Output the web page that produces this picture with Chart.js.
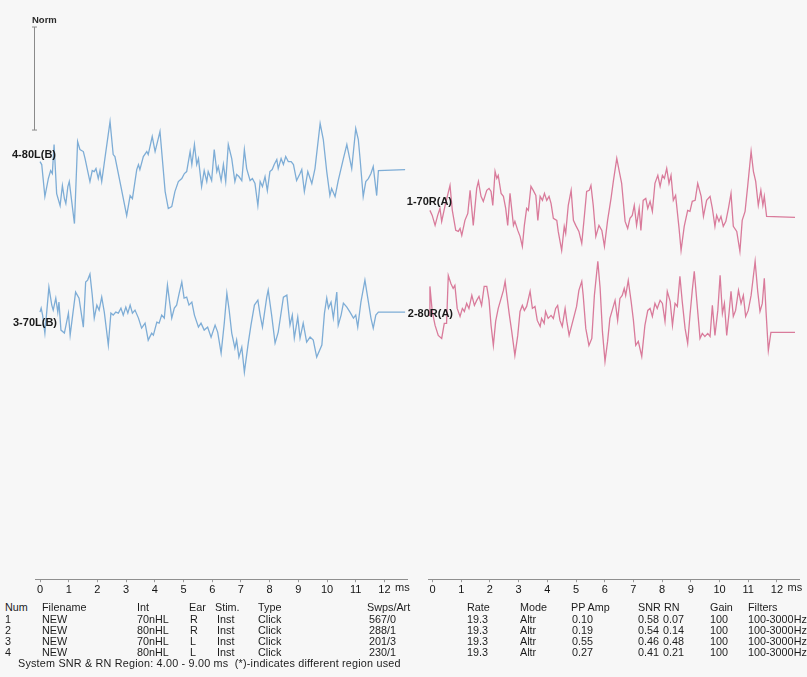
<!DOCTYPE html>
<html>
<head>
<meta charset="utf-8">
<script src="https://cdn.jsdelivr.net/npm/chart.js@4/dist/chart.umd.min.js"></script>
<style>
  html, body { margin: 0; background: #f7f7f7; }
  #page { position: relative; width: 807px; height: 677px; overflow: hidden;
          font-family: "Liberation Sans", Arial, sans-serif; color: #1c1c1c; }
  #page canvas { position: absolute; left: 0; top: 0; }
  .cell { position: absolute; font-size: 10.8px; line-height: 12px; white-space: pre; }
  .note { letter-spacing: 0.2px; }
</style>
</head>
<body>
<div id="page">
  <canvas id="leftChart" width="807" height="600"></canvas>
  <canvas id="rightChart" width="807" height="600"></canvas>
  <div id="table"></div>
</div>
<script>
// =============================
// ABR waveforms: latency (ms) and amplitude (µV),
// amplitude measured from each trace's flat tail
// =============================
const tL80 = [0.00,0.06,0.17,0.29,0.37,0.43,0.49,0.58,0.70,0.78,
  0.85,0.90,0.97,1.02,1.20,1.31,1.39,1.51,1.57,1.68,
  1.74,1.82,1.89,1.95,2.03,2.09,2.15,2.26,2.44,2.55,
  2.61,2.82,3.02,3.14,3.22,3.37,3.43,3.48,3.60,3.72,
  3.77,3.91,4.01,4.18,4.24,4.36,4.47,4.59,4.70,4.82,
  4.94,5.03,5.11,5.23,5.29,5.38,5.46,5.52,5.63,5.72,
  5.81,5.86,5.98,6.07,6.16,6.21,6.31,6.39,6.47,6.56,
  6.68,6.79,6.85,6.93,7.03,7.12,7.20,7.32,7.40,7.49,
  7.59,7.67,7.75,7.84,7.92,8.01,8.09,8.16,8.25,8.30,
  8.40,8.48,8.56,8.65,8.75,8.83,8.94,9.06,9.12,9.21,
  9.33,9.47,9.58,9.76,9.87,9.99,10.10,10.16,10.28,10.39,
  10.57,10.69,10.74,10.86,11.00,11.09,11.15,11.26,11.35,11.44,
  11.53,11.61,11.73,11.79,12.72];
const uvL80 = [0.08,0.05,-0.27,-0.09,-0.01,-0.04,0.25,-0.24,-0.36,-0.16,
  -0.29,-0.34,-0.17,-0.12,-0.54,0.28,0.20,0.18,0.11,-0.04,
  -0.12,-0.01,-0.02,0.01,-0.09,-0.01,-0.12,0.11,0.48,0.15,
  0.13,-0.17,-0.46,-0.26,-0.29,0.00,0.05,0.00,0.13,0.18,
  0.15,0.33,0.18,0.38,0.18,-0.22,-0.39,-0.37,-0.22,-0.12,
  -0.09,-0.04,-0.02,0.18,0.05,0.25,0.05,0.11,-0.17,-0.01,
  -0.12,-0.02,-0.11,0.20,-0.02,0.03,-0.11,0.05,-0.12,0.25,
  0.11,-0.12,-0.05,-0.07,-0.11,0.20,0.01,-0.11,-0.09,-0.14,
  -0.36,-0.12,-0.17,-0.07,-0.21,-0.02,0.00,0.05,0.10,0.01,
  0.11,0.05,0.13,0.08,0.08,0.05,-0.11,-0.04,0.00,-0.22,
  -0.02,-0.14,0.01,0.46,0.30,-0.02,-0.26,-0.19,-0.27,-0.11,
  0.11,0.25,0.18,0.01,0.41,0.30,0.11,-0.27,-0.12,-0.09,
  -0.04,0.03,-0.26,-0.01,0.00];

const tL70 = [0.00,0.04,0.09,0.17,0.31,0.41,0.46,0.55,0.62,0.66,
  0.73,0.85,0.99,1.05,1.24,1.36,1.51,1.59,1.66,1.74,
  1.82,1.89,1.98,2.06,2.15,2.24,2.38,2.47,2.55,2.64,
  2.73,2.82,2.90,2.99,3.06,3.14,3.22,3.31,3.43,3.54,
  3.66,3.77,3.89,3.95,4.07,4.15,4.24,4.33,4.44,4.53,
  4.59,4.68,4.76,4.85,4.94,5.02,5.11,5.19,5.29,5.38,
  5.52,5.61,5.72,5.84,5.96,6.10,6.19,6.31,6.42,6.51,
  6.59,6.68,6.79,6.85,6.93,7.03,7.12,7.26,7.35,7.47,
  7.59,7.67,7.75,7.90,7.95,8.07,8.19,8.30,8.48,8.60,
  8.71,8.79,8.86,8.98,9.06,9.17,9.29,9.41,9.52,9.64,
  9.82,9.91,9.99,10.05,10.14,10.22,10.34,10.39,10.49,10.57,
  10.69,10.80,10.92,11.00,11.07,11.18,11.32,11.42,11.53,11.61,
  11.70,11.79,12.72];
const uvL70 = [0.00,0.04,-0.03,-0.21,0.25,0.07,0.02,0.14,0.00,0.10,
  -0.18,-0.21,-0.01,-0.23,0.20,0.14,-0.15,0.30,0.32,0.38,
  0.17,-0.06,0.07,0.02,0.15,0.00,-0.33,-0.01,-0.03,0.00,
  -0.01,0.04,-0.03,0.05,-0.01,0.07,-0.01,0.02,-0.06,-0.16,
  -0.11,-0.28,-0.21,-0.23,-0.10,-0.11,-0.03,-0.06,0.27,0.07,
  -0.06,0.04,0.07,0.19,0.30,0.14,0.15,0.07,0.10,-0.03,
  -0.15,-0.11,-0.18,-0.15,-0.25,-0.13,-0.20,-0.41,-0.11,0.19,
  0.02,-0.21,-0.36,-0.28,-0.45,-0.35,-0.60,-0.30,-0.13,0.07,
  0.12,-0.03,-0.15,0.15,0.22,-0.03,-0.31,-0.20,0.15,0.17,
  -0.13,-0.03,-0.26,-0.05,-0.26,-0.11,-0.30,-0.25,-0.28,-0.45,
  -0.33,-0.01,0.14,0.04,0.10,-0.06,0.20,-0.13,-0.03,0.09,
  0.05,0.00,-0.06,-0.03,-0.15,0.10,0.32,0.14,-0.06,-0.16,
  -0.03,0.00,0.00];

const tR70 = [-0.09,-0.01,0.09,0.18,0.26,0.32,0.44,0.61,0.69,0.81,
  0.90,0.96,1.02,1.13,1.23,1.31,1.42,1.54,1.60,1.69,
  1.77,1.89,1.97,2.04,2.10,2.18,2.24,2.29,2.39,2.47,
  2.55,2.62,2.70,2.82,2.87,2.97,3.05,3.13,3.20,3.28,
  3.34,3.43,3.51,3.60,3.67,3.75,3.83,3.90,3.98,4.06,
  4.13,4.21,4.33,4.38,4.50,4.59,4.64,4.73,4.83,4.91,
  4.99,5.10,5.20,5.29,5.37,5.46,5.52,5.60,5.69,5.80,
  5.90,5.99,6.10,6.22,6.30,6.42,6.50,6.59,6.71,6.80,
  6.88,6.96,7.03,7.11,7.20,7.26,7.34,7.43,7.50,7.58,
  7.66,7.75,7.85,7.93,8.01,8.08,8.16,8.24,8.31,8.39,
  8.47,8.59,8.66,8.77,8.89,8.97,9.05,9.15,9.24,9.36,
  9.44,9.55,9.67,9.75,9.84,9.90,9.98,10.05,10.13,10.22,
  10.31,10.40,10.48,10.60,10.71,10.79,10.89,10.98,11.10,11.18,
  11.26,11.35,11.44,11.51,11.56,11.64,12.63];
const uvR70 = [0.07,0.02,-0.08,0.02,0.09,-0.04,0.12,0.32,0.07,-0.13,
  -0.14,-0.11,-0.18,-0.03,0.04,0.27,-0.08,0.29,0.36,0.21,
  0.16,0.27,0.29,0.26,0.12,0.46,0.39,0.42,0.24,0.21,
  0.09,-0.08,0.24,-0.08,-0.04,-0.13,-0.19,-0.29,-0.08,0.09,
  0.07,0.31,0.27,0.22,-0.03,0.21,0.17,0.24,0.17,0.21,
  0.14,-0.01,-0.03,-0.14,-0.33,-0.09,-0.16,0.12,0.27,-0.03,
  -0.08,-0.14,-0.26,0.01,0.26,0.27,0.32,0.12,-0.19,-0.08,
  -0.13,-0.29,-0.03,0.19,0.36,0.59,0.47,0.34,-0.04,-0.11,
  -0.01,0.02,0.12,-0.08,0.09,-0.13,0.17,0.19,0.09,0.16,
  0.06,0.34,0.42,0.31,0.42,0.39,0.49,0.34,0.42,0.17,
  0.22,-0.11,-0.33,-0.09,0.07,0.06,0.16,0.17,0.34,0.21,
  0.01,0.17,0.21,0.09,-0.09,0.02,-0.04,0.01,-0.09,-0.04,
  0.09,0.24,-0.09,-0.14,-0.34,-0.03,0.06,0.31,0.66,0.46,
  0.36,0.12,0.27,0.12,0.21,0.01,0.00];

const tR80 = [-0.12,-0.09,-0.01,0.09,0.20,0.32,0.41,0.49,0.55,0.64,
  0.72,0.78,0.86,0.96,1.04,1.11,1.19,1.27,1.37,1.46,
  1.54,1.62,1.71,1.80,1.89,1.97,2.04,2.12,2.20,2.29,
  2.39,2.47,2.53,2.59,2.67,2.76,2.87,2.97,3.05,3.13,
  3.20,3.28,3.40,3.48,3.57,3.65,3.75,3.80,3.89,3.94,
  4.03,4.13,4.21,4.29,4.36,4.44,4.52,4.62,4.68,4.76,
  4.85,4.94,5.02,5.10,5.20,5.25,5.34,5.45,5.55,5.64,
  5.76,5.84,5.92,6.01,6.10,6.18,6.26,6.36,6.45,6.53,
  6.61,6.68,6.73,6.82,6.92,7.00,7.08,7.17,7.29,7.40,
  7.50,7.58,7.66,7.75,7.83,7.93,8.01,8.10,8.18,8.28,
  8.36,8.45,8.53,8.62,8.70,8.80,8.89,8.97,9.05,9.12,
  9.21,9.32,9.40,9.49,9.59,9.67,9.75,9.84,9.94,10.02,
  10.10,10.17,10.25,10.33,10.40,10.48,10.56,10.66,10.75,10.83,
  10.91,11.00,11.10,11.24,11.33,11.41,11.49,11.56,11.62,11.70,
  11.79,12.63];
const uvR80 = [0.17,0.46,0.21,0.07,-0.03,-0.06,0.09,0.09,0.57,0.49,
  0.44,0.47,0.24,0.16,0.24,0.21,0.29,0.24,0.37,0.27,
  0.32,0.36,0.27,0.46,0.46,0.32,0.07,-0.13,0.11,0.24,
  0.34,0.42,0.51,0.37,0.19,0.01,-0.23,-0.03,0.21,0.27,
  0.22,0.26,0.41,0.24,0.26,0.12,0.06,0.14,0.09,0.21,
  0.14,0.17,0.14,0.24,0.27,0.12,0.06,0.24,0.11,-0.03,
  0.07,0.17,0.26,0.42,0.51,0.37,0.04,-0.13,-0.06,0.37,
  0.71,0.44,0.01,-0.29,-0.09,0.14,0.22,0.32,0.12,0.34,
  0.37,0.44,0.37,0.52,0.31,0.12,-0.13,-0.09,-0.24,0.07,
  0.22,0.24,0.16,0.29,0.24,0.32,0.29,0.11,0.41,0.31,
  0.07,0.29,0.26,0.56,0.31,0.04,-0.11,0.17,0.42,0.61,
  0.31,-0.06,-0.01,-0.04,-0.01,-0.04,0.27,-0.03,0.22,0.57,
  0.19,0.29,-0.03,0.19,0.41,0.16,0.22,0.42,0.29,0.37,
  0.16,0.22,0.37,0.71,0.41,0.21,0.29,0.54,0.21,-0.18,
  0.00,0.00];

const normSize = 1.03;   // µV shown by the "Norm" bar
const xUnit = 'ms';

// recording table
const tableHead = ['Num', 'Filename', 'Int', 'Ear', 'Stim.', 'Type', 'Swps/Art',
  'Rate', 'Mode', 'PP Amp', 'SNR', 'RN', 'Gain', 'Filters'];
const tableRows = [
  ['1', 'NEW', '70nHL', 'R', 'Inst', 'Click', '567/0', '19.3', 'Altr', '0.10', '0.58', '0.07', '100', '100-3000Hz'],
  ['2', 'NEW', '80nHL', 'R', 'Inst', 'Click', '288/1', '19.3', 'Altr', '0.19', '0.54', '0.14', '100', '100-3000Hz'],
  ['3', 'NEW', '70nHL', 'L', 'Inst', 'Click', '201/3', '19.3', 'Altr', '0.55', '0.46', '0.48', '100', '100-3000Hz'],
  ['4', 'NEW', '80nHL', 'L', 'Inst', 'Click', '230/1', '19.3', 'Altr', '0.27', '0.41', '0.21', '100', '100-3000Hz']
];
const tableNote = 'System SNR & RN Region: 4.00 - 9.00 ms  (*)-indicates different region used';

// =============================
// layout / style
// =============================
const FONT = '"Liberation Sans", Arial, sans-serif';
Chart.defaults.font.family = FONT;
Chart.defaults.font.size = 11;
Chart.defaults.color = '#151515';

const BLUE = '#7eadd6';
const PINK = '#d97b9b';

function trace(name, times, amps, base, color, labelDx, labelDy) {
  return {
    label: name,
    data: times.map((t, i) => ({ x: t, y: base + amps[i] })),
    borderColor: color,
    borderWidth: 1.3,
    pointRadius: 0,
    tension: 0,
    fill: false,
    base, labelDx, labelDy
  };
}

// trace names + "ms" unit after the last tick
const traceLabels = {
  id: 'traceLabels',
  afterDatasetsDraw(chart) {
    const { ctx, scales: { x, y } } = chart;
    ctx.save();
    ctx.fillStyle = '#1a1a1a';
    ctx.textBaseline = 'middle';
    ctx.font = 'bold 11px ' + FONT;
    ctx.textAlign = 'right';
    chart.data.datasets.forEach(ds => {
      ctx.fillText(ds.label, x.getPixelForValue(0) + ds.labelDx, y.getPixelForValue(ds.base) + ds.labelDy);
    });
    ctx.font = '11px ' + FONT;
    ctx.textAlign = 'center';
    ctx.fillText(xUnit, x.getPixelForValue(12) + 18, y.bottom + 9);
    ctx.restore();
  }
};

// calibration bar top left
const normBar = {
  id: 'normBar',
  afterDraw(chart) {
    const { ctx, scales: { y } } = chart;
    const bx = 34.5;
    const top = y.getPixelForValue(5.52);
    const bot = y.getPixelForValue(5.52 - normSize);
    ctx.save();
    ctx.strokeStyle = '#8a8a8a';
    ctx.lineWidth = 1;
    ctx.beginPath();
    ctx.moveTo(bx, top); ctx.lineTo(bx, bot);
    ctx.moveTo(bx - 2.5, top); ctx.lineTo(bx + 2.5, top);
    ctx.moveTo(bx - 2.5, bot); ctx.lineTo(bx + 2.5, bot);
    ctx.stroke();
    ctx.fillStyle = '#2a2a2a';
    ctx.font = 'bold 9.5px ' + FONT;
    ctx.textAlign = 'left';
    ctx.textBaseline = 'middle';
    ctx.fillText('Norm', 32, 20);
    ctx.restore();
  }
};

function makePanel(canvasId, datasets, padLeft, padRight, extraPlugins) {
  return new Chart(document.getElementById(canvasId), {
    type: 'line',
    data: { datasets },
    options: {
      responsive: false,
      animation: false,
      events: [],
      layout: { padding: { left: padLeft, right: padRight, top: 0, bottom: 2.6 } },
      plugins: { legend: { display: false }, tooltip: { enabled: false } },
      scales: {
        x: {
          type: 'linear',
          min: -0.15,
          max: 12.8,
          grid: { drawOnChartArea: false, drawTicks: true, tickLength: 3, color: '#9a9a9a' },
          border: { display: true, color: '#8f8f8f', width: 1 },
          ticks: {
            stepSize: 1, includeBounds: false, autoSkip: false, maxRotation: 0,
            padding: 1, color: '#151515'
          }
        },
        y: { display: false, min: 0, max: 5.79 }
      }
    },
    plugins: [traceLabels].concat(extraPlugins)
  });
}

const leftChart = makePanel('leftChart', [
  trace('4-80L(B)', tL80, uvL80, 4.095, BLUE, 16, -15),
  trace('3-70L(B)', tL70, uvL70, 2.67, BLUE, 17, 11)
], 35.7, 399.6, [normBar]);

const rightChart = makePanel('rightChart', [
  trace('1-70R(A)', tR70, uvR70, 3.617, PINK, 19.5, -15.3),
  trace('2-80R(A)', tR80, uvR80, 2.467, PINK, 20.5, -18.3)
], 428.2, 7.1, []);

// =============================
// table under the axes
// =============================
const headX = [5, 42, 137, 189, 215, 258, 367, 467, 520, 571, 638, 664, 710, 748];
const cellX = [5, 42, 137, 190, 217, 258, 369, 467, 520, 572, 638, 663, 710, 748];
const rowY = [607, 619, 630, 641, 652];
const noteY = 663;

const table = document.getElementById('table');
function addCell(text, x, yMid, cls) {
  const d = document.createElement('div');
  d.className = 'cell' + (cls ? ' ' + cls : '');
  d.textContent = text;
  d.style.left = x + 'px';
  d.style.top = (yMid - 6) + 'px';
  table.appendChild(d);
}
tableHead.forEach((h, i) => addCell(h, headX[i], rowY[0]));
tableRows.forEach((row, r) => row.forEach((v, i) => addCell(v, cellX[i], rowY[r + 1])));
addCell(tableNote, 18, noteY, 'note');
</script>
</body>
</html>
